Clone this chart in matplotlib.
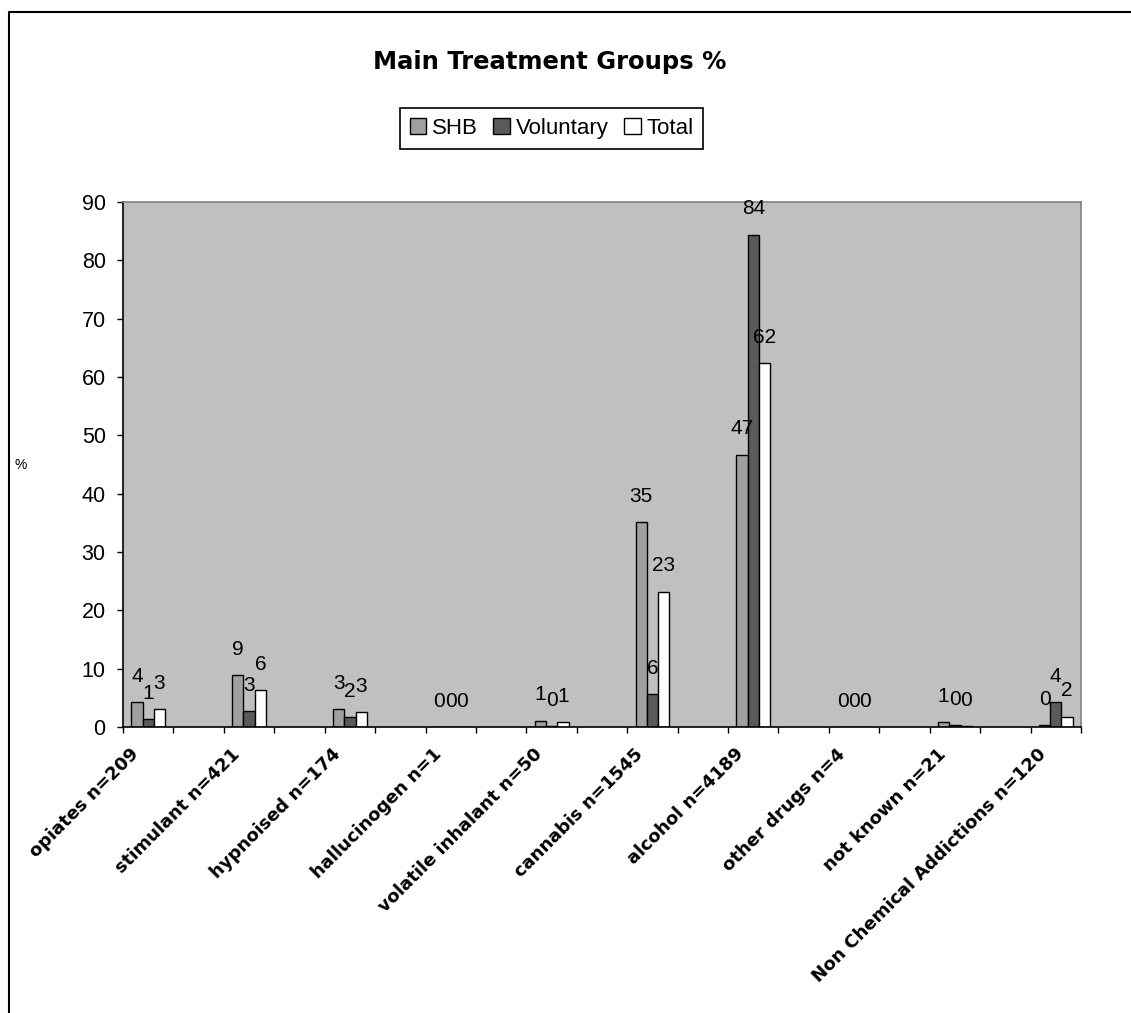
import numpy as np
import matplotlib.pyplot as plt
from matplotlib.lines import Line2D

# Main treatment groups, share of each group in %
categories = ['opiates n=209', 'stimulant n=421', 'hypnoised n=174', 'hallucinogen n=1',
              'volatile inhalant n=50', 'cannabis n=1545', 'alcohol n=4189',
              'other drugs n=4', 'not known n=21', 'Non Chemical Addictions n=120']
shb = [4.3, 8.9, 3.1, 0.0, 1.1, 35.1, 46.7, 0.0, 0.9, 0.3]
voluntary = [1.4, 2.8, 1.7, 0.0, 0.1, 5.6, 84.4, 0.0, 0.4, 4.3]
total = [3.1, 6.3, 2.6, 0.0, 0.8, 23.2, 62.4, 0.0, 0.1, 1.8]
series_names = ['SHB', 'Voluntary', 'Total']

fig = plt.figure(figsize=(11.31, 10.13), dpi=100)
ax = fig.add_axes([0.1088, 0.2823, 0.847, 0.5183])
ax.set_facecolor('#c0c0c0')

# every category sits on every other slot of a 19-slot axis
x = np.arange(len(categories)) * 2
w = 0.224
colors = ['#a0a0a0', '#5a5a5a', '#ffffff']
for i, (vals, name) in enumerate(zip([shb, voluntary, total], series_names)):
    xs = x + (i - 1) * w
    ax.bar(xs, vals, width=w, color=colors[i], edgecolor='black', linewidth=1, label=name)
    for xi, v in zip(xs, vals):
        ax.annotate(f'{v:.0f}', (xi, v), xytext=(0, 18.5), textcoords='offset points',
                    ha='center', va='center', fontsize=15, family='Liberation Sans')

ax.set_xlim(-0.5, 18.5)
ax.set_ylim(0, 90)
ax.set_yticks(range(0, 91, 10))
ax.set_xticks(np.arange(-0.5, 18.6, 1))
ax.set_xticklabels([])
ax.tick_params(axis='both', direction='out', length=4.5, width=1, color='black')
ax.tick_params(axis='y', pad=8, labelsize=15.5)
for lbl in ax.get_yticklabels():
    lbl.set_family('Liberation Sans')

ax.spines['left'].set_color('black')
ax.spines['bottom'].set_color('black')
ax.spines['top'].set_color('#808080')
ax.spines['right'].set_color('#808080')
for s in ax.spines.values():
    s.set_linewidth(1.2)

for xi, cat in zip(x, categories):
    ax.annotate(cat, (xi, 0), xycoords=('data', 'axes fraction'), xytext=(-4, -13),
                textcoords='offset points', ha='right', va='top', rotation=45,
                fontsize=13, fontweight='bold', family='DejaVu Sans')

fig.text(0.018, 1 - 465 / 1013, '%', fontsize=10, family='Liberation Sans',
         ha='center', va='center')
fig.text(0.486, 1 - 62 / 1013, 'Main Treatment Groups %', fontsize=17.5,
         fontweight='bold', family='DejaVu Sans', ha='center', va='center')

leg = fig.legend(loc='center', bbox_to_anchor=(0.4876, 1 - 128.5 / 1013), ncol=3,
                 fancybox=False, edgecolor='black', framealpha=1, handlelength=0.75,
                 handleheight=0.75, handletextpad=0.25, columnspacing=0.7,
                 prop={'family': 'Liberation Sans', 'size': 16}, borderpad=0.45)
leg.get_frame().set_linewidth(1.2)

# outer chart frame (cut off at right and bottom)
fig.add_artist(Line2D([9 / 1131, 9 / 1131, 1.0], [0.0, 1 - 12 / 1013, 1 - 12 / 1013],
                      transform=fig.transFigure, color='black', linewidth=1.5))

fig.savefig('out.png', dpi=100)
